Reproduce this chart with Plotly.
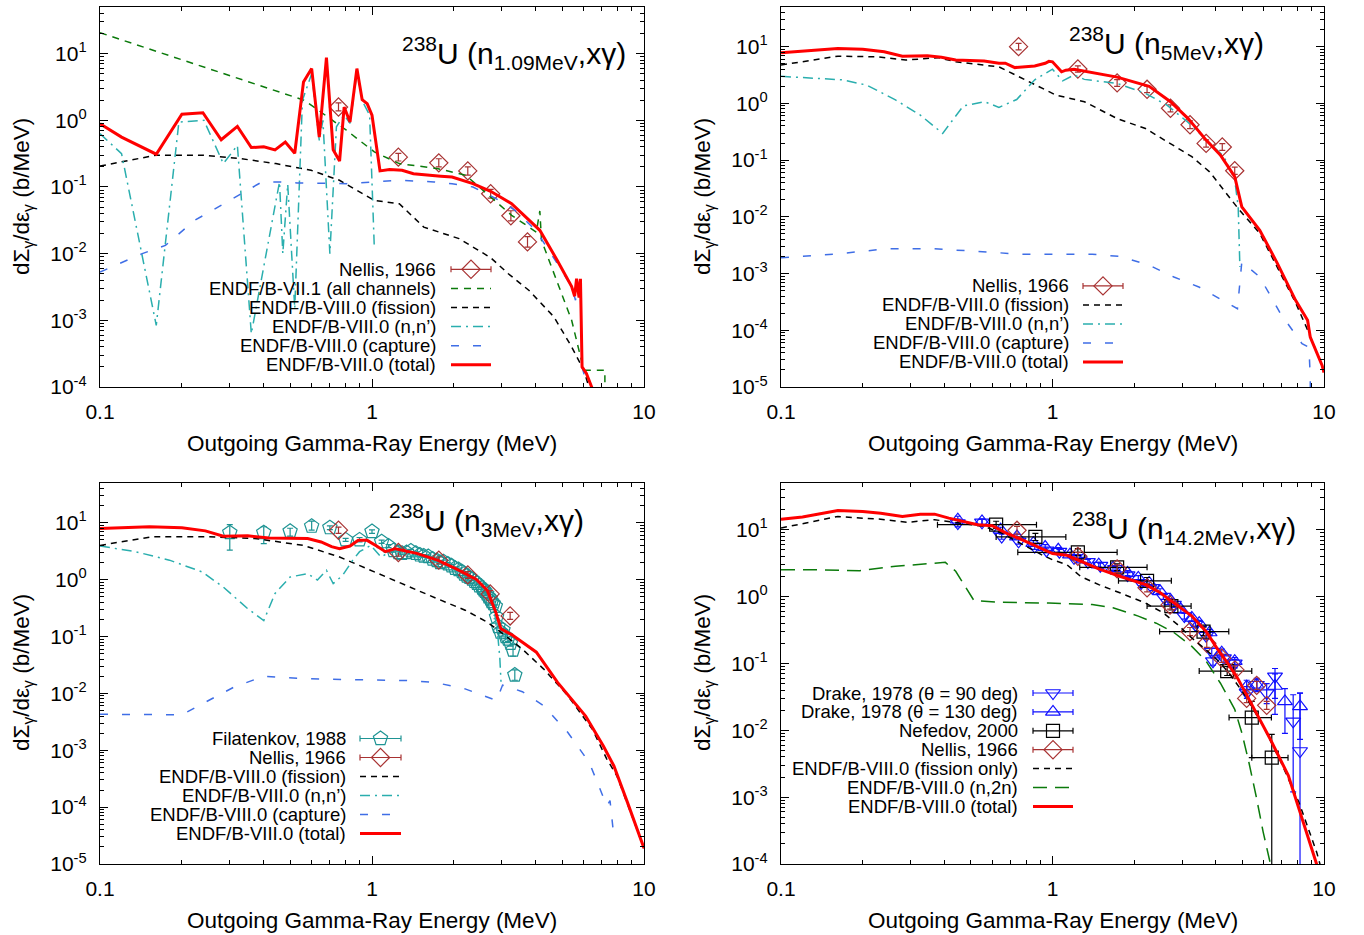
import math
import plotly.graph_objects as go

W, H = 1364, 935
FONT = "Liberation Sans, Arial, Helvetica, sans-serif"

# ====================== DATA ======================
# ---- Panel 1 : n(1.09 MeV) ----
p1_total_x = [0.1, 0.12, 0.161, 0.2, 0.239, 0.279, 0.32, 0.36, 0.40, 0.44, 0.48, 0.52, 0.56, 0.60, 0.64, 0.68,
              0.72, 0.76, 0.79, 0.83, 0.88, 0.92, 0.96, 1.0, 1.07, 1.16, 1.29, 1.42, 1.79, 1.97, 2.35, 2.73,
              3.26, 3.67, 4.14, 4.8, 5.42, 5.56, 5.65, 5.77, 5.84, 5.92, 6.14, 6.42, 6.8]
p1_total_y = [0.89, 0.56, 0.31, 1.23, 1.30, 0.51, 0.81, 0.39, 0.40, 0.36, 0.47, 0.32, 3.76, 5.96, 0.56, 8.7,
              0.36, 0.245, 1.58, 0.94, 5.96, 2.04, 1.78, 1.19, 0.174, 0.182, 0.178, 0.158, 0.145, 0.141, 0.112, 0.086,
              0.056, 0.035, 0.0224, 0.0079, 0.0032, 0.0023, 0.0042, 0.0022, 0.0042, 2.0e-4, 1.6e-4, 1.0e-4, 5e-5]
p1_vii_x = [0.1, 0.563, 0.805, 1.02, 1.26, 1.75, 2.21, 2.65, 3.26, 4.02, 4.14, 4.2, 4.81, 5.42, 6.01, 7.18, 7.2]
p1_vii_y = [20.6, 2.0, 0.71, 0.335, 0.224, 0.188, 0.15, 0.079, 0.0376, 0.021, 0.0437, 0.0158, 0.00355, 0.001,
            1.78e-4, 1.78e-4, 1e-6]
p1_fis_x = [0.1, 0.161, 0.237, 0.329, 0.443, 0.597, 0.759, 1.02, 1.26, 1.55, 2.09, 2.73, 3.17, 3.78, 4.67,
            5.42, 6.01, 6.3, 6.6]
p1_fis_y = [0.206, 0.3, 0.3, 0.266, 0.224, 0.178, 0.126, 0.063, 0.056, 0.025, 0.0168, 0.0087, 0.005, 0.0028,
            0.00112, 4e-4, 1.78e-4, 1e-4, 5e-5]
p1_nn_x = [0.1, 0.12, 0.161, 0.195, 0.241, 0.284, 0.32, 0.36, 0.457, 0.47, 0.49, 0.52, 0.555, 0.60, 0.64, 0.66,
           0.70, 0.74, 0.79, 0.83, 0.88, 0.93, 0.98, 1.02]
p1_nn_y = [0.63, 0.316, 8.4e-4, 0.94, 1.0, 0.224, 0.42, 6.3e-4, 0.119, 0.01, 0.11, 0.0015, 2.0, 5.0, 0.5, 1.0,
           0.01, 0.8, 1.2, 0.9, 5.0, 1.8, 1.2, 0.012]
p1_cap_x = [0.1, 0.143, 0.174, 0.223, 0.30, 0.394, 0.457, 0.53, 0.805, 1.05, 1.26, 1.69, 1.97, 2.35, 2.8, 3.35,
            4.0, 4.8, 5.42, 5.6, 5.7, 5.85, 5.92, 6.2]
p1_cap_y = [0.0053, 0.01, 0.0133, 0.0316, 0.063, 0.119, 0.119, 0.115, 0.112, 0.119, 0.126, 0.119, 0.112, 0.1,
            0.07, 0.045, 0.0224, 0.0071, 0.0032, 0.002, 0.0038, 0.002, 2e-4, 1e-4]
p1_nellis_x = [0.753, 1.25, 1.76, 2.25, 2.73, 3.24, 3.73]
p1_nellis_y = [1.58, 0.28, 0.23, 0.174, 0.079, 0.037, 0.015]
p1_nellis_lo = [1.38, 0.245, 0.2, 0.15, 0.068, 0.031, 0.0125]
p1_nellis_hi = [1.82, 0.32, 0.265, 0.2, 0.092, 0.044, 0.018]

# ---- Panel 2 : n(5 MeV) ----
p2_total_x = [0.1, 0.162, 0.2, 0.24, 0.28, 0.346, 0.39, 0.44, 0.56, 0.635, 0.67, 0.727, 0.86, 0.94, 0.97, 1.0,
              1.08, 1.12, 1.2, 1.4, 1.73, 2.27, 2.72, 3.16, 3.68, 4.15, 4.69, 4.98, 5.8, 6.74, 7.85, 8.7, 8.9,
              9.84, 10.0]
p2_total_y = [7.8, 9.3, 9.0, 8.1, 6.8, 6.9, 6.5, 5.8, 5.6, 5.1, 5.1, 4.27, 4.55, 5.1, 5.5, 5.4,
              3.6, 3.85, 4.0, 3.5, 2.9, 2.0, 1.07, 0.54, 0.225, 0.123, 0.051, 0.015, 0.0058, 0.0015, 3.4e-4,
              1.5e-4, 7.6e-5, 2.4e-5, 1.8e-5]
p2_fis_x = [0.1, 0.162, 0.227, 0.288, 0.379, 0.44, 0.635, 0.76, 1.03, 1.31, 1.73, 2.2, 2.64, 3.26, 3.79, 4.28,
            4.83, 5.8, 6.74, 7.85, 8.6, 9.84, 10.0]
p2_fis_y = [4.74, 6.8, 6.6, 5.8, 6.4, 5.4, 4.4, 2.9, 1.4, 1.07, 0.54, 0.36, 0.21, 0.115, 0.062, 0.03,
            0.014, 0.0051, 0.0013, 3.1e-4, 1.15e-4, 2.4e-5, 1.8e-5]
p2_nn_x = [0.1, 0.168, 0.207, 0.264, 0.326, 0.394, 0.469, 0.562, 0.635, 0.738, 0.86, 1.0, 1.09, 1.2, 1.31,
           1.73, 2.2, 2.64, 3.16, 3.68, 4.28, 4.69, 4.83, 4.9]
p2_nn_y = [3.0, 2.6, 2.1, 1.15, 0.62, 0.295, 0.9, 1.07, 0.85, 1.17, 2.6, 4.0, 2.5, 3.16, 2.65,
           2.25, 1.5, 0.93, 0.46, 0.225, 0.115, 0.045, 0.015, 0.0013]
p2_cap_x = [0.1, 0.158, 0.248, 0.357, 0.5, 0.76, 1.4, 1.78, 2.27, 2.8, 3.46, 4.4, 4.8, 4.98, 5.8, 6.9, 8.3,
            8.8, 8.9, 8.95]
p2_cap_y = [1.9e-3, 2.2e-3, 2.75e-3, 2.75e-3, 2.5e-3, 2.2e-3, 2.2e-3, 2.0e-3, 1.4e-3, 8.7e-4, 5.8e-4, 3.0e-4,
            2.4e-4, 1.6e-3, 8.7e-4, 2.0e-4, 5.8e-5, 5.0e-5, 1.5e-5, 1e-7]
p2_nellis_x = [0.75, 1.24, 1.73, 2.23, 2.72, 3.21, 3.68, 4.22, 4.69]
p2_nellis_y = [10.0, 4.04, 2.3, 1.77, 0.82, 0.42, 0.197, 0.17, 0.065]
p2_nellis_lo = [8.8, 3.55, 2.0, 1.55, 0.71, 0.36, 0.17, 0.148, 0.056]
p2_nellis_hi = [11.4, 4.6, 2.62, 2.02, 0.94, 0.49, 0.227, 0.195, 0.075]

# ---- Panel 3 : n(3 MeV) ----
p3_total_x = [0.1, 0.152, 0.2, 0.244, 0.284, 0.349, 0.418, 0.53, 0.58, 0.65, 0.71, 0.76, 0.83, 0.89, 0.96,
              1.04, 1.12, 1.22, 1.46, 1.74, 2.03, 2.42, 2.65, 2.85, 2.98, 3.26, 4.02, 4.81, 6.1, 7.08, 7.75,
              8.7, 10.0]
p3_total_y = [7.9, 8.5, 8.15, 7.2, 5.8, 5.9, 5.4, 5.4, 5.3, 4.6, 3.8, 3.5, 3.9, 4.9, 4.9,
              3.9, 3.1, 3.5, 2.9, 2.2, 1.56, 1.01, 0.65, 0.27, 0.136, 0.108, 0.053, 0.0156, 0.004, 0.0012,
              5.3e-4, 1.2e-4, 1.9e-5]
p3_fis_x = [0.1, 0.156, 0.244, 0.37, 0.56, 0.76, 1.02, 1.42, 1.74, 2.2, 2.65, 3.08, 3.57, 4.27, 5.25, 6.47,
            7.3, 7.96, 10.0]
p3_fis_y = [4.0, 5.7, 5.7, 5.3, 4.0, 2.5, 1.37, 0.69, 0.46, 0.29, 0.18, 0.105, 0.06, 0.027, 0.0091, 0.0023,
            7e-4, 3.5e-4, 1.9e-5]
p3_nn_x = [0.1, 0.135, 0.18, 0.237, 0.284, 0.349, 0.4, 0.44, 0.5, 0.58, 0.63, 0.68, 0.72, 0.78, 0.85, 0.9,
           0.99, 1.08, 1.19, 1.38, 1.74, 2.03, 2.42, 2.65, 2.82, 2.9, 2.95, 2.98]
p3_nn_y = [3.9, 3.1, 2.2, 1.37, 0.74, 0.31, 0.19, 0.57, 1.11, 1.28, 0.98, 1.46, 0.85, 1.19, 2.2, 3.1,
           4.0, 2.5, 3.3, 2.7, 2.05, 1.46, 0.97, 0.57, 0.27, 0.105, 0.043, 0.016]
p3_cap_x = [0.1, 0.135, 0.2, 0.237, 0.31, 0.4, 0.53, 0.8, 1.34, 1.69, 2.2, 2.57, 2.87, 3.02, 3.57, 4.27, 5.25,
            6.3, 7.08, 7.3, 7.5, 7.75]
p3_cap_y = [4.3e-3, 4.3e-3, 4.2e-3, 6.5e-3, 0.0128, 0.02, 0.0184, 0.0175, 0.0168, 0.0157, 0.012, 0.0091,
            0.0075, 0.014, 0.0107, 6.1e-3, 2.05e-3, 6e-4, 1.6e-4, 1.05e-4, 1.3e-4, 3e-5]
fil_x = [0.30, 0.40, 0.50, 0.60, 0.70, 0.80, 0.90, 1.00, 1.085, 1.15, 1.20, 1.25, 1.29, 1.34, 1.39, 1.45,
         1.50, 1.55, 1.61, 1.67, 1.73, 1.78, 1.83, 1.90, 1.96, 2.02, 2.08, 2.14, 2.18, 2.23, 2.28, 2.33,
         2.38, 2.43, 2.48, 2.54, 2.57, 2.60, 2.64, 2.68, 2.72, 2.75, 2.79, 2.84, 2.87, 2.91, 2.97, 3.03,
         3.10, 3.16, 3.23, 3.30, 3.35]
fil_y = [6.7, 6.7, 7.1, 8.7, 8.2, 5.0, 5.0, 7.0, 4.65, 3.9, 3.24, 3.0, 2.91, 3.0, 3.2, 2.9,
         2.72, 2.6, 2.54, 2.3, 2.16, 2.0, 2.07, 1.89, 1.75, 1.58, 1.5, 1.38, 1.25, 1.16, 1.1, 1.02,
         0.93, 0.86, 0.78, 0.71, 0.66, 0.62, 0.56, 0.5, 0.46, 0.41, 0.38, 0.34, 0.22, 0.15, 0.12, 0.13,
         0.1, 0.09, 0.076, 0.058, 0.021]
fil_lo = [3.3, 4.3, 5.8, 7.4, 7.6, 4.7, 4.6, 6.5, 4.35, 3.65, 3.05, 2.82, 2.74, 2.82, 3.0, 2.73,
          2.56, 2.45, 2.39, 2.16, 2.03, 1.88, 1.95, 1.78, 1.65, 1.49, 1.41, 1.3, 1.18, 1.09, 1.03, 0.96,
          0.87, 0.81, 0.73, 0.67, 0.62, 0.58, 0.53, 0.47, 0.43, 0.385, 0.355, 0.32, 0.205, 0.14, 0.112, 0.12,
          0.092, 0.082, 0.068, 0.045, 0.017]
fil_hi = [9.3, 8.5, 8.0, 10.7, 8.8, 5.3, 5.5, 7.5, 4.95, 4.15, 3.45, 3.18, 3.08, 3.18, 3.4, 3.07,
          2.88, 2.75, 2.69, 2.44, 2.29, 2.12, 2.19, 2.0, 1.85, 1.67, 1.59, 1.46, 1.32, 1.23, 1.17, 1.08,
          0.99, 0.91, 0.83, 0.75, 0.7, 0.66, 0.59, 0.53, 0.49, 0.435, 0.405, 0.36, 0.235, 0.16, 0.128, 0.14,
          0.108, 0.098, 0.084, 0.072, 0.026]
p3_nellis_x = [0.753, 1.25, 1.76, 2.25, 2.72, 3.22]
p3_nellis_y = [7.4, 3.0, 2.2, 1.21, 0.56, 0.23]
p3_nellis_lo = [6.5, 2.6, 1.9, 1.05, 0.48, 0.2]
p3_nellis_hi = [8.4, 3.4, 2.5, 1.38, 0.64, 0.265]

# ---- Panel 4 : n(14.2 MeV) ----
p4_total_x = [0.1, 0.12, 0.162, 0.2, 0.233, 0.28, 0.326, 0.368, 0.415, 0.47, 0.53, 0.6, 0.675, 0.76, 0.91, 1.0,
              1.13, 1.23, 1.48, 1.78, 2.2, 2.48, 2.8, 3.26, 3.68, 4.03, 4.41, 4.83, 5.46, 6.35, 7.39, 8.34,
              9.4, 10.0]
p4_total_y = [14.4, 15.5, 19.4, 18.8, 17.7, 15.8, 17.1, 17.1, 14.9, 13.3, 11.9, 11.5, 8.9, 7.3, 5.3, 4.4,
              4.14, 3.56, 2.59, 2.0, 1.51, 1.16, 0.8, 0.51, 0.3, 0.17, 0.102, 0.058, 0.023, 0.0073, 0.0021,
              4.7e-4, 1.06e-4, 4.5e-5]
p4_fis_x = [0.1, 0.124, 0.162, 0.2, 0.233, 0.29, 0.368, 0.455, 0.56, 0.65, 0.76, 0.91, 1.0, 1.13, 1.27, 1.48,
            1.78, 2.2, 2.56, 2.89, 3.26, 3.68, 4.15, 4.55, 5.14, 5.97, 6.95, 8.09, 9.4, 10.0]
p4_fis_y = [10.6, 12.6, 15.8, 14.9, 14.4, 12.9, 14.1, 12.6, 11.2, 8.9, 6.3, 4.24, 3.56, 3.0, 2.0, 1.51,
            1.13, 0.8, 0.57, 0.38, 0.24, 0.16, 0.102, 0.065, 0.0325, 0.0116, 0.0033, 8.3e-4, 1.5e-4, 6e-5]
p4_n2n_x = [0.1, 0.124, 0.195, 0.264, 0.403, 0.44, 0.514, 0.65, 0.97, 1.4, 1.67, 2.07, 2.41, 2.8, 3.26, 3.68,
            4.15, 4.69, 4.98, 5.29, 5.62, 5.97, 6.35, 6.6]
p4_n2n_y = [2.53, 2.53, 2.44, 2.84, 3.25, 2.39, 0.87, 0.82, 0.8, 0.76, 0.68, 0.51, 0.4, 0.29, 0.18, 0.108,
            0.051, 0.0206, 0.0092, 0.0033, 0.00105, 3e-4, 1e-4, 4e-5]
drake90_x = [0.448, 0.55, 0.65, 0.75, 0.86, 0.95, 1.06, 1.2, 1.35, 1.5, 1.7, 1.89, 2.12, 2.33, 2.56, 2.8,
             3.06, 3.36, 3.68, 3.86, 3.9, 4.28, 4.69, 5.2, 5.66, 6.15, 6.6, 7.7, 8.16]
drake90_y = [12.6, 12.9, 7.9, 6.7, 5.6, 4.9, 4.7, 3.8, 3.3, 2.9, 2.6, 2.1, 1.6, 1.35, 1.0, 0.76,
             0.51, 0.38, 0.26, 0.15, 0.108, 0.12, 0.1, 0.0365, 0.048, 0.036, 0.064, 0.0136, 0.0049]
drake90_lo = [11.0, 11.6, 7.2, 6.1, 5.1, 4.5, 4.3, 3.5, 3.0, 2.65, 2.38, 1.92, 1.46, 1.23, 0.91, 0.69,
              0.46, 0.34, 0.23, 0.13, 0.094, 0.104, 0.086, 0.03, 0.04, 0.025, 0.0173, 0.0012, 1e-7]
drake90_hi = [14.4, 14.3, 8.6, 7.3, 6.1, 5.3, 5.1, 4.1, 3.6, 3.15, 2.82, 2.28, 1.74, 1.47, 1.09, 0.83,
              0.56, 0.42, 0.29, 0.17, 0.122, 0.136, 0.114, 0.045, 0.058, 0.05, 0.084, 0.034, 0.036]
drake130_x = [0.448, 0.55, 0.644, 0.74, 0.85, 0.94, 1.05, 1.16, 1.3, 1.48, 1.67, 1.89, 2.07, 2.27, 2.49, 2.74,
              2.97, 3.26, 3.47, 3.79, 4.2, 4.69, 5.19, 5.65, 6.6, 7.18, 8.16]
drake130_y = [14.1, 13.3, 10.0, 7.9, 6.3, 5.5, 5.0, 4.24, 3.56, 3.0, 2.68, 2.25, 1.9, 1.6, 1.2, 0.85,
              0.64, 0.48, 0.4, 0.29, 0.145, 0.108, 0.045, 0.048, 0.046, 0.027, 0.0228]
drake130_lo = [12.3, 12.0, 9.1, 7.2, 5.75, 5.0, 4.6, 3.9, 3.25, 2.75, 2.45, 2.06, 1.74, 1.46, 1.09, 0.77,
               0.58, 0.43, 0.36, 0.26, 0.126, 0.094, 0.036, 0.038, 0.03, 0.009, 0.0073]
drake130_hi = [15.9, 14.6, 10.9, 8.6, 6.85, 6.0, 5.4, 4.6, 3.87, 3.25, 2.91, 2.44, 2.06, 1.74, 1.31, 0.93,
               0.7, 0.53, 0.44, 0.32, 0.164, 0.122, 0.056, 0.06, 0.07, 0.042, 0.036]
nef_x = [0.62, 0.865, 1.24, 1.73, 2.23, 2.74, 3.6, 4.4, 5.42, 6.42]
nef_y = [11.9, 7.8, 4.6, 2.74, 1.72, 0.72, 0.3, 0.077, 0.0155, 0.0039]
nef_xlo = [0.377, 0.62, 0.745, 1.26, 1.75, 2.23, 2.48, 3.47, 4.47, 5.42]
nef_xhi = [0.873, 1.12, 1.73, 2.23, 2.74, 3.24, 4.46, 5.42, 6.4, 7.37]
nef_lo = [10.5, 6.9, 4.1, 2.45, 1.53, 0.63, 0.26, 0.066, 0.0039, 1e-7]
nef_hi = [13.4, 8.8, 5.2, 3.1, 1.93, 0.82, 0.35, 0.09, 0.027, 0.0087]
p4_nellis_x = [0.74, 1.24, 1.73, 2.23, 2.71, 3.21, 3.7, 4.2, 4.7, 5.19, 5.65, 6.15]
p4_nellis_y = [9.8, 4.0, 2.6, 1.35, 0.75, 0.3, 0.2, 0.12, 0.08, 0.030, 0.047, 0.0236]
p4_nellis_lo = [8.6, 3.5, 2.28, 1.18, 0.65, 0.26, 0.174, 0.104, 0.069, 0.026, 0.041, 0.0205]
p4_nellis_hi = [11.2, 4.6, 2.98, 1.55, 0.86, 0.345, 0.23, 0.138, 0.092, 0.035, 0.054, 0.027]

# ====================== STYLE ======================
RED = "#ff0000"
BLACK = "#000000"
GREEN = "#0b7a0b"
CYAN = "#2aaeae"
BLUE = "#3f6ee6"
BROWN = "#a83232"
TEAL = "#1e9494"
DBLUE = "#1010ff"

DASH_FIS = "6px,5px"
DASH_VII = "7px,6px"
DASH_NN = "10px,5px,2px,5px"
DASH_CAP = "8px,14px"
DASH_N2N = "14px,8px"

traces = []
annotations = []


def line(x, y, color, width, dash, ax):
    traces.append(go.Scatter(x=x, y=y, mode="lines", line=dict(color=color, width=width, dash=dash),
                             xaxis="x" + ax, yaxis="y" + ax, hoverinfo="skip", showlegend=False))


def pts(x, y, lo, hi, symbol, color, ax, size=14, xlo=None, xhi=None):
    tr = dict(x=x, y=y, mode="markers",
              marker=dict(symbol=symbol, size=size, color=color, line=dict(color=color, width=1.2)),
              error_y=dict(type="data", symmetric=False, array=[h - v for v, h in zip(y, hi)],
                           arrayminus=[v - l for v, l in zip(y, lo)], color=color, thickness=1.2, width=3),
              xaxis="x" + ax, yaxis="y" + ax, hoverinfo="skip", showlegend=False)
    if xlo is not None:
        tr["error_x"] = dict(type="data", symmetric=False, array=[h - v for v, h in zip(x, xhi)],
                             arrayminus=[v - l for v, l in zip(x, xlo)], color=color, thickness=1.2, width=3)
    traces.append(go.Scatter(**tr))


# Panel 1
pts(p1_nellis_x, p1_nellis_y, p1_nellis_lo, p1_nellis_hi, "diamond-open", BROWN, "")
line(p1_vii_x, p1_vii_y, GREEN, 1.5, DASH_VII, "")
line(p1_fis_x, p1_fis_y, BLACK, 1.5, DASH_FIS, "")
line(p1_nn_x, p1_nn_y, CYAN, 1.5, DASH_NN, "")
line(p1_cap_x, p1_cap_y, BLUE, 1.5, DASH_CAP, "")
line(p1_total_x, p1_total_y, RED, 3, "solid", "")

# Panel 2
pts(p2_nellis_x, p2_nellis_y, p2_nellis_lo, p2_nellis_hi, "diamond-open", BROWN, "2")
line(p2_fis_x, p2_fis_y, BLACK, 1.5, DASH_FIS, "2")
line(p2_nn_x, p2_nn_y, CYAN, 1.5, DASH_NN, "2")
line(p2_cap_x, p2_cap_y, BLUE, 1.5, DASH_CAP, "2")
line(p2_total_x, p2_total_y, RED, 3, "solid", "2")

# Panel 3
pts(fil_x, fil_y, fil_lo, fil_hi, "pentagon-open", TEAL, "3", size=15)
pts(p3_nellis_x, p3_nellis_y, p3_nellis_lo, p3_nellis_hi, "diamond-open", BROWN, "3")
line(p3_fis_x, p3_fis_y, BLACK, 1.5, DASH_FIS, "3")
line(p3_nn_x, p3_nn_y, CYAN, 1.5, DASH_NN, "3")
line(p3_cap_x, p3_cap_y, BLUE, 1.5, DASH_CAP, "3")
line(p3_total_x, p3_total_y, RED, 3, "solid", "3")

# Panel 4
pts(drake90_x, drake90_y, drake90_lo, drake90_hi, "triangle-down-open", DBLUE, "4", size=13)
pts(drake130_x, drake130_y, drake130_lo, drake130_hi, "triangle-up-open", DBLUE, "4", size=13)
pts(nef_x, nef_y, nef_lo, nef_hi, "square-open", BLACK, "4", size=13, xlo=nef_xlo, xhi=nef_xhi)
pts(p4_nellis_x, p4_nellis_y, p4_nellis_lo, p4_nellis_hi, "diamond-open", BROWN, "4")
line(p4_fis_x, p4_fis_y, BLACK, 1.5, DASH_FIS, "4")
line(p4_n2n_x, p4_n2n_y, GREEN, 1.5, DASH_N2N, "4")
line(p4_total_x, p4_total_y, RED, 3, "solid", "4")

# ====================== LEGENDS (pixel overlay axis x5/y5) ======================
LEG_FONT = dict(family=FONT, size=18.5, color="black")


def legend(entries, xr, x0, x1, y0, dy):
    for i, (label, kind, color, extra) in enumerate(entries):
        yy = y0 + i * dy
        annotations.append(dict(xref="x5", yref="y5", x=xr, y=yy, text=label, showarrow=False,
                                xanchor="right", yanchor="middle", font=LEG_FONT))
        if kind == "line":
            width, dash = extra
            traces.append(go.Scatter(x=[x0, x1], y=[yy, yy], mode="lines",
                                     line=dict(color=color, width=width, dash=dash),
                                     xaxis="x5", yaxis="y5", hoverinfo="skip", showlegend=False))
        else:
            symbol, size = extra
            traces.append(go.Scatter(x=[(x0 + x1) / 2], y=[yy], mode="markers",
                                     marker=dict(symbol=symbol, size=size, color=color,
                                                 line=dict(color=color, width=1.2)),
                                     error_x=dict(type="constant", value=(x1 - x0) / 2, color=color,
                                                  thickness=1.2, width=3),
                                     xaxis="x5", yaxis="y5", hoverinfo="skip", showlegend=False))


legend([("Nellis, 1966", "pts", BROWN, ("diamond-open", 14)),
        ("ENDF/B-VII.1 (all channels)", "line", GREEN, (1.5, DASH_VII)),
        ("ENDF/B-VIII.0 (fission)", "line", BLACK, (1.5, DASH_FIS)),
        ("ENDF/B-VIII.0 (n,n’)", "line", CYAN, (1.5, DASH_NN)),
        ("ENDF/B-VIII.0 (capture)", "line", BLUE, (1.5, DASH_CAP)),
        ("ENDF/B-VIII.0 (total)", "line", RED, (3, "solid"))],
       438, 451, 491, 269.3, 19.1)
legend([("Nellis, 1966", "pts", BROWN, ("diamond-open", 14)),
        ("ENDF/B-VIII.0 (fission)", "line", BLACK, (1.5, DASH_FIS)),
        ("ENDF/B-VIII.0 (n,n’)", "line", CYAN, (1.5, DASH_NN)),
        ("ENDF/B-VIII.0 (capture)", "line", BLUE, (1.5, DASH_CAP)),
        ("ENDF/B-VIII.0 (total)", "line", RED, (3, "solid"))],
       1071, 1083, 1123, 285.9, 19.0)
legend([("Filatenkov, 1988", "pts", TEAL, ("pentagon-open", 15)),
        ("Nellis, 1966", "pts", BROWN, ("diamond-open", 14)),
        ("ENDF/B-VIII.0 (fission)", "line", BLACK, (1.5, DASH_FIS)),
        ("ENDF/B-VIII.0 (n,n’)", "line", CYAN, (1.5, DASH_NN)),
        ("ENDF/B-VIII.0 (capture)", "line", BLUE, (1.5, DASH_CAP)),
        ("ENDF/B-VIII.0 (total)", "line", RED, (3, "solid"))],
       348, 360, 401, 738.5, 19.0)
legend([("Drake, 1978 (θ = 90 deg)", "pts", DBLUE, ("triangle-down-open", 13)),
        ("Drake, 1978 (θ = 130 deg)", "pts", DBLUE, ("triangle-up-open", 13)),
        ("Nefedov, 2000", "pts", BLACK, ("square-open", 13)),
        ("Nellis, 1966", "pts", BROWN, ("diamond-open", 14)),
        ("ENDF/B-VIII.0 (fission only)", "line", BLACK, (1.5, DASH_FIS)),
        ("ENDF/B-VIII.0 (n,2n)", "line", GREEN, (1.5, DASH_N2N)),
        ("ENDF/B-VIII.0 (total)", "line", RED, (3, "solid"))],
       1020, 1033, 1073, 693, 18.9)

# ====================== TITLES / AXIS TITLES ======================
TITLE_FONT = dict(family=FONT, size=30, color="black")
AX_FONT = dict(family=FONT, size=22.5, color="black")
panel_titles = [("<sup>238</sup>U (n<sub>1.09MeV</sub>,xγ)", 628, 53),
                ("<sup>238</sup>U (n<sub>5MeV</sub>,xγ)", 1266, 43),
                ("<sup>238</sup>U (n<sub>3MeV</sub>,xγ)", 586, 520),
                ("<sup>238</sup>U (n<sub>14.2MeV</sub>,xγ)", 1298, 528)]
for txt, xx, yy in panel_titles:
    annotations.append(dict(xref="x5", yref="y5", x=xx, y=yy, text=txt, showarrow=False,
                            xanchor="right", yanchor="middle", font=TITLE_FONT))
for xc, yc in [(372, 443), (1052.5, 443), (372, 920), (1052.5, 920)]:
    annotations.append(dict(xref="x5", yref="y5", x=xc, y=yc, text="Outgoing Gamma-Ray Energy (MeV)",
                            showarrow=False, xanchor="center", yanchor="middle", font=AX_FONT))
for xc, yc in [(23, 197), (704, 197), (23, 673), (704, 673)]:
    annotations.append(dict(xref="x5", yref="y5", x=xc, y=yc,
                            text="dΣ<sub>γ</sub>/dε<sub>γ</sub> (b/MeV)", textangle=-90,
                            showarrow=False, xanchor="center", yanchor="middle", font=AX_FONT))

# ====================== AXES ======================
TICK_FONT = dict(family=FONT, size=21, color="black")
x_minor = [m * 10 ** k for k in (-1, 0) for m in range(2, 10)]


def xaxis(domain, anchor):
    return dict(type="log", domain=domain, anchor=anchor, range=[-1, 1], showline=True, linecolor="black",
                linewidth=1.3, mirror="allticks", ticks="inside", ticklen=8, tickwidth=1, tickcolor="black",
                tickmode="array", tickvals=[0.1, 1, 10], ticktext=["0.1", "1", "10"], tickfont=TICK_FONT,
                ticklabelstandoff=6, showgrid=False, zeroline=False, fixedrange=True,
                minor=dict(ticks="inside", ticklen=4, tickwidth=1, tickcolor="black", tickvals=x_minor,
                           showgrid=False))


def yaxis(domain, anchor, emin):
    exps = list(range(emin, 2))
    minor = [m * 10 ** k for k in range(emin, 2) for m in range(2, 10)]
    return dict(type="log", domain=domain, anchor=anchor, range=[emin, math.log10(50)], showline=True,
                linecolor="black", linewidth=1.3, mirror="allticks", ticks="inside", ticklen=8, tickwidth=1,
                tickcolor="black", tickmode="array", tickvals=[10.0 ** e for e in exps],
                ticktext=["10<sup>%d</sup>" % e for e in exps], tickfont=TICK_FONT, ticklabelstandoff=8,
                showgrid=False, zeroline=False, fixedrange=True,
                minor=dict(ticks="inside", ticklen=4, tickwidth=1, tickcolor="black", tickvals=minor,
                           showgrid=False))


XL = [100 / W, 644 / W]
XR = [781 / W, 1324 / W]
YT = [1 - 387 / H, 1 - 7 / H]
YB = [1 - 864 / H, 1 - 483 / H]

layout = go.Layout(
    width=W, height=H, margin=dict(l=0, r=0, t=0, b=0, autoexpand=False),
    paper_bgcolor="white", plot_bgcolor="rgba(0,0,0,0)", showlegend=False,
    font=dict(family=FONT, color="black"),
    xaxis=xaxis(XL, "y"), yaxis=yaxis(YT, "x", -4),
    xaxis2=xaxis(XR, "y2"), yaxis2=yaxis(YT, "x2", -5),
    xaxis3=xaxis(XL, "y3"), yaxis3=yaxis(YB, "x3", -5),
    xaxis4=xaxis(XR, "y4"), yaxis4=yaxis(YB, "x4", -4),
    xaxis5=dict(domain=[0, 1], anchor="y5", range=[0, W], visible=False, fixedrange=True),
    yaxis5=dict(domain=[0, 1], anchor="x5", range=[H, 0], visible=False, fixedrange=True),
    annotations=annotations,
)

fig = go.Figure(data=traces, layout=layout)
fig.write_html("out.html",
               post_script="document.body.style.margin='0';document.body.style.padding='0';"
                           "document.documentElement.style.overflow='hidden';")
